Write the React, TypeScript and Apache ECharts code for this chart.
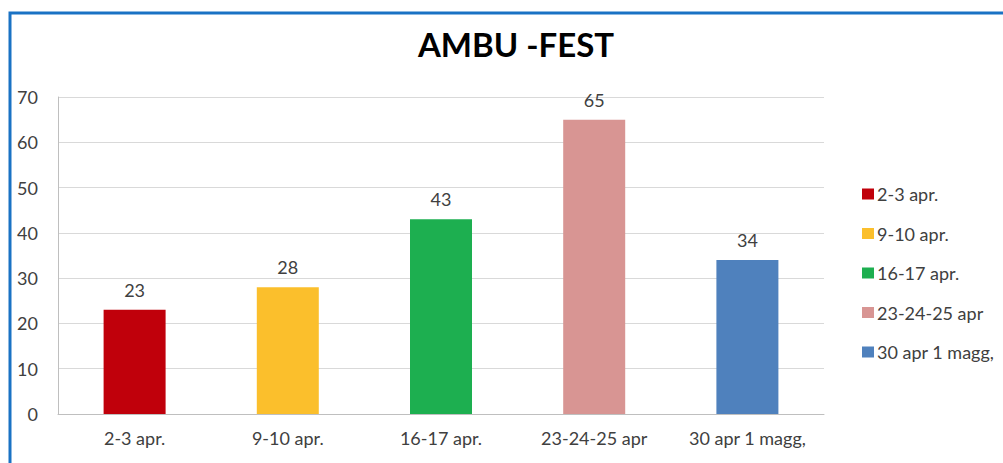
import React, { useEffect, useRef } from "react";
import * as echarts from "echarts";

const categories = ["2-3 apr.", "9-10 apr.", "16-17 apr.", "23-24-25 apr", "30 apr 1 magg,"];
const values = [23, 28, 43, 65, 34];
const colors = ["#C0000B", "#FBBF2C", "#1DAF50", "#D89593", "#4F81BD"];
const yTicks = { min: 0, max: 70, interval: 10 };
const title = "AMBU -FEST";

export default function App() {
  const ref = useRef<HTMLDivElement>(null);
  useEffect(() => {
    if (!ref.current) return;
    const chart = echarts.init(ref.current, null, { renderer: "svg" });
    const font = "Lato, 'Open Sans', sans-serif";
    const series = categories.map((name, i) => ({
      name,
      type: "bar",
      stack: "all",
      barWidth: 62,
      itemStyle: { color: colors[i] },
      label: {
        show: true,
        position: "top",
        distance: 11,
        color: "#404040",
        fontSize: 18,
        fontFamily: font,
        formatter: (p: any) => (p.value == null ? "" : String(p.value)),
      },
      data: categories.map((_, j) => (j === i ? values[i] : null)),
    }));
    chart.setOption({
      animation: false,
      backgroundColor: "#ffffff",
      title: {
        text: title,
        left: 511,
        top: 22,
        textAlign: "center",
        textStyle: { fontFamily: font, fontSize: 33, fontWeight: "bold", color: "#000000" },
      },
      graphic: [
        {
          type: "rect",
          shape: { x: 10, y: 13, width: 1100, height: 600 },
          style: { fill: "none", stroke: "#1A72C4", lineWidth: 3 },
          z: 100,
        },
      ],
      legend: {
        orient: "vertical",
        left: 857,
        top: 180,
        itemWidth: 12,
        itemHeight: 11,
        itemGap: 21.5,
        icon: "rect",
        data: categories,
        textStyle: { fontFamily: font, fontSize: 18, color: "#404040", lineHeight: 18, padding: [0, 0, 0, -2] },
      },
      grid: { left: 58, top: 97, width: 766, height: 317 },
      xAxis: {
        type: "category",
        data: categories,
        axisLine: { lineStyle: { color: "#BFBFBF", width: 1 } },
        axisTick: { show: false },
        axisLabel: { color: "#404040", fontSize: 18, fontFamily: font, margin: 15 },
      },
      yAxis: {
        type: "value",
        min: yTicks.min,
        max: yTicks.max,
        interval: yTicks.interval,
        axisLine: { show: true, lineStyle: { color: "#BFBFBF", width: 1 } },
        axisTick: { show: false },
        splitLine: { lineStyle: { color: "#D9D9D9", width: 1 } },
        axisLabel: { color: "#404040", fontSize: 18, fontFamily: font, margin: 20 },
      },
      series,
    });
    return () => chart.dispose();
  }, []);
  return <div ref={ref} style={{ position: "fixed", left: 0, top: 0, width: 1003, height: 463 }} />;
}
